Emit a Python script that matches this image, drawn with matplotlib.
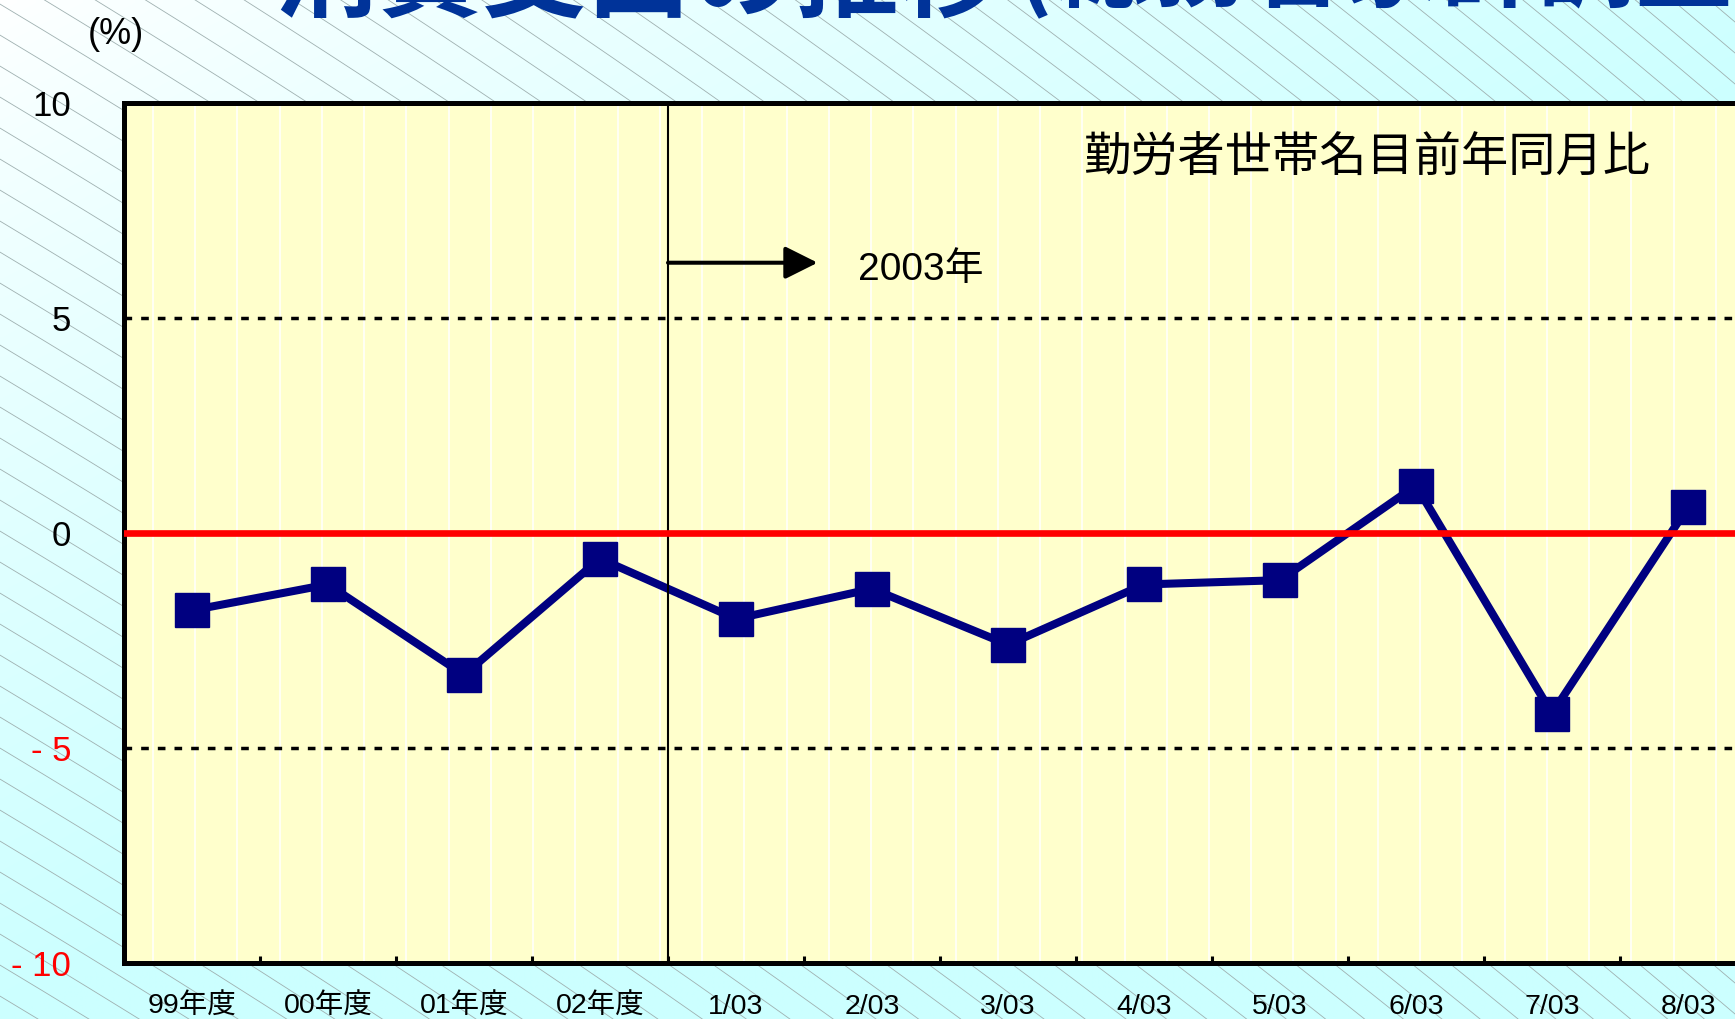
import numpy as np
import matplotlib
matplotlib.use('Agg')
import matplotlib.pyplot as plt

# ---- data ----
categories = ['99年度', '00年度', '01年度', '02年度', '1/03', '2/03', '3/03',
              '4/03', '5/03', '6/03', '7/03', '8/03']
values = [-1.8, -1.2, -3.3, -0.6, -2.0, -1.3, -2.6, -1.2, -1.1, 1.1, -4.2, 0.6]
yticks = [-10, -5, 0, 5, 10]
ytick_labels = ['- 10', '- 5', '0', '5', '10']
ytick_colors = ['red', 'red', 'black', 'black', 'black']
title_main = '消費支出の推移'
title_sub = '(総務省家計調査)'
series_note = '勤労者世帯名目前年同月比'
year_note = '2003年'
unit_label = '(%)'

plt.rcParams['font.family'] = ['Liberation Sans', 'Noto Sans CJK JP']

W, H = 1735, 1019
fig = plt.figure(figsize=(W / 100, H / 100), dpi=100)

# ---- background: gradient + diagonal hatch ----
bg = fig.add_axes([0, 0, 1, 1], zorder=-10)
bg.set_xlim(0, W)
bg.set_ylim(H, 0)
bg.axis('off')
gx, gy = np.meshgrid(np.linspace(0, 1, 300), np.linspace(0, 1, 200))
t = np.clip(gx * 0.9 + gy * 1.0, 0, 1) ** 0.8
c0 = np.array([1.0, 1.0, 1.0])
c1 = np.array([0.80, 1.0, 1.0])
img = c0[None, None, :] * (1 - t[..., None]) + c1[None, None, :] * t[..., None]
bg.imshow(img, extent=[0, W, H, 0], aspect='auto', interpolation='bilinear')
hx = np.linspace(0, W, 400)
hs = 0.6 * hx + 0.125 * hx ** 2 / W
for c in np.arange(-hs[-1] - 40, H + 40, 31):
    bg.plot(hx, hs + c, color='#9fb0b0', lw=0.6)

# ---- main axes ----
ax = fig.add_axes([124 / W, 1 - 963 / H, 1632 / W, (963 - 102.7) / H])
ax.set_facecolor('#FFFFCC')
x = np.arange(len(categories))
ax.set_xlim(-0.5, len(categories) - 0.5)
ax.set_ylim(-10, 10)

for px in np.arange(153, 1760, 42.24):
    ax.axvline(-0.5 + (px - 124) / 136, color='white', lw=1.1, zorder=0.5)

ax.set_yticks(yticks)
ax.set_yticklabels(ytick_labels)
for lab, col in zip(ax.get_yticklabels(), ytick_colors):
    lab.set_color(col)
ax.yaxis.grid(True, color='black', linestyle=(0, (2.2, 2.6)), lw=2.5)

ax.set_xticks(x)
ax.set_xticklabels(categories)
ax.set_xticks(np.arange(0.5, len(categories) - 0.5, 1), minor=True)
ax.tick_params(axis='x', which='major', length=0, pad=22, labelsize=20.5)
ax.tick_params(axis='x', which='minor', direction='in', length=5, width=2.2, color='black')
ax.tick_params(axis='y', direction='in', length=4, width=2.2, pad=38, labelsize=25)

for s in ax.spines.values():
    s.set_linewidth(3.6)
    s.set_color('black')

ax.plot(x, values, color='#000080', lw=5.8, marker='s', ms=25,
        mec='#000080', zorder=2.5)
ax.axvline(3.5, color='black', lw=1.5, zorder=2.7)
ax.axhline(0, color='red', lw=4.8, zorder=3)

# annotations
ax.annotate('', xy=(4.6, 0.814), xytext=(3.5, 0.814),
            xycoords=ax.get_xaxis_transform(), textcoords=ax.get_xaxis_transform(),
            arrowprops=dict(arrowstyle='-|>,head_length=1.0,head_width=0.5',
                            mutation_scale=20, lw=2.9, color='black',
                            shrinkA=0, shrinkB=0), zorder=4)
ax.text(0.4498, 0.8055, year_note, transform=ax.transAxes, fontsize=28,
        va='center', ha='left', color='black')
ax.text(0.5876, 0.9357, series_note, transform=ax.transAxes, fontsize=34,
        va='center', ha='left', color='black', family='Noto Sans CJK JP')

# figure texts
fig.text(88 / W, 1 - 35 / H, unit_label, fontsize=26, va='center', ha='left')
fig.text(274 / W, 1 - 8 / H, title_main, fontsize=75, fontweight='bold',
         color='#003399', family='Noto Sans CJK JP', va='baseline', ha='left')
fig.text(1016 / W, 1 + 2 / H, title_sub, fontsize=70, fontweight='bold',
         color='#003399', family='Noto Sans CJK JP', va='baseline', ha='left')

fig.savefig('out.png', dpi=100)
